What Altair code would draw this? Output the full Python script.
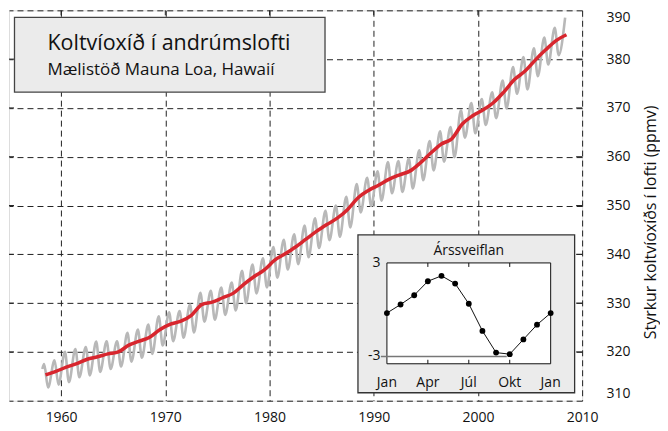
import altair as alt
import pandas as pd

FONT = "Open Sans"

# ---- data ----
trend_years = list(range(1958, 2009))
trend_ppm = [315.3, 316.0, 316.9, 317.6, 318.5, 319.0, 319.6, 320.0, 321.4, 322.2,
             323.0, 324.6, 325.7, 326.3, 327.5, 329.7, 330.2, 331.1, 332.0, 333.8,
             335.4, 336.8, 338.8, 340.1, 341.5, 343.1, 344.7, 346.1, 347.4, 349.2,
             351.6, 353.1, 354.2, 355.4, 356.3, 357.1, 358.8, 360.8, 362.6, 363.7,
             366.7, 368.4, 369.6, 371.1, 373.3, 375.8, 377.5, 379.8, 381.9, 383.8, 385.0]

# monthly record: seasonal maxima (May) and minima (Sep/Oct)
peak_years = list(range(1958, 2009))
peak_ppm = [317.5, 318.3, 320.0, 320.6, 321.0, 322.1, 322.2, 322.2, 323.9, 324.6,
            325.6, 327.3, 328.1, 328.4, 329.7, 332.1, 332.5, 333.2, 334.2, 336.6,
            337.9, 339.2, 341.5, 343.0, 344.1, 345.9, 347.4, 348.9, 350.0, 351.8,
            354.4, 355.7, 357.0, 358.9, 359.1, 359.6, 361.3, 363.2, 365.2, 366.1,
            369.5, 371.0, 371.8, 373.2, 375.6, 378.4, 380.4, 382.2, 384.4, 386.4, 388.5]
trough_years = list(range(1958, 2008))
trough_ppm = [312.7, 313.3, 313.8, 314.8, 315.2, 315.9, 316.5, 317.0, 318.0, 318.8,
              319.6, 321.3, 322.2, 322.9, 324.0, 326.2, 326.6, 327.6, 328.5, 330.0,
              332.0, 333.2, 335.2, 336.9, 338.0, 339.4, 341.3, 342.9, 343.6, 345.5,
              348.6, 349.9, 351.0, 352.5, 352.8, 353.5, 355.2, 357.2, 359.0, 359.9,
              363.9, 364.8, 366.5, 367.9, 369.9, 372.9, 373.8, 376.5, 378.9, 380.8]
first_month = (1958.2, 316.5)

# seasonal cycle (inset)
cycle_month = list(range(13))
cycle_ppm = [-0.2, 0.35, 0.95, 1.85, 2.2, 1.7, 0.4, -1.35, -2.75, -2.85, -1.9, -0.95, -0.2]
cycle_labels = ["Jan", "Apr", "Júl", "Okt", "Jan"]
cycle_label_pos = [0, 3, 6, 9, 12]

x_ticks = [1960, 1970, 1980, 1990, 2000, 2010]
y_ticks = [310, 320, 330, 340, 350, 360, 370, 380, 390]
inner_x_ticks = [1960, 1970, 1980, 1990, 2000]
inner_y_ticks = [320, 330, 340, 350, 360, 370, 380]

title_text = "Koltvíoxíð í andrúmslofti"
subtitle_text = "Mælistöð Mauna Loa, Hawaií"
y_title = "Styrkur koltvíoxíðs í lofti (ppmv)"
inset_title = "Árssveiflan"

# ---- tables ----
rows = [{"t": first_month[0], "v": first_month[1]}]
for i, yr in enumerate(peak_years):
    rows.append({"t": yr + 0.37, "v": peak_ppm[i]})
    if i < len(trough_years):
        rows.append({"t": trough_years[i] + 0.75, "v": trough_ppm[i]})
gray_df = pd.DataFrame(rows)
trend_df = pd.DataFrame({"t": [y + 0.5 for y in trend_years], "v": trend_ppm})
cycle_df = pd.DataFrame({"m": cycle_month, "v": cycle_ppm})
mlab_df = pd.DataFrame({"m": cycle_label_pos, "lab": cycle_labels})

W, H = 574, 391
xs = alt.Scale(domain=[1955, 2010], nice=False, zero=False)
ys = alt.Scale(domain=[310, 390], nice=False, zero=False)

gray = alt.Chart(gray_df).mark_line(color="#b8b8b8", strokeWidth=2.6, interpolate="monotone").encode(
    x=alt.X("t:Q", scale=xs, title=None,
            axis=alt.Axis(values=x_ticks, format="d", grid=True, gridDash=[6, 4], gridColor="#222",
                          gridWidth=1, ticks=False, tickSize=0, domain=False, labelFontSize=14,
                          labelPadding=10, labelColor="#111", labelFont=FONT, labelFlush=False)),
    y=alt.Y("v:Q", scale=ys,
            axis=alt.Axis(orient="right", values=y_ticks, grid=True, gridDash=[6, 4], gridColor="#222",
                          gridWidth=1, ticks=False, tickSize=0, domain=False, labelFontSize=14,
                          labelPadding=24, labelColor="#111", labelFont=FONT,
                          labelFlush=True, labelFlushOffset=0,
                          title=y_title, titleFont=FONT, titleFontSize=16, titleFontWeight="normal",
                          titleColor="#111", titleAngle=270, titleX=68, titleY=212,
                          titleAlign="center", titleBaseline="middle")),
)
red = alt.Chart(trend_df).mark_line(color="#d8262e", strokeWidth=3.5, interpolate="monotone").encode(
    x=alt.X("t:Q", scale=xs, axis=None), y=alt.Y("v:Q", scale=ys, axis=None))

one = pd.DataFrame({"a": [0]})
title_box = alt.Chart(one).mark_rect(fill="#ebebeb", stroke="#444", strokeWidth=1.3).encode(
    x=alt.value(5.5), x2=alt.value(316.5), y=alt.value(7), y2=alt.value(82))
title_t = alt.Chart(pd.DataFrame({"s": [title_text]})).mark_text(
    font=FONT, fontSize=21.5, align="left", baseline="alphabetic", color="#111").encode(
    text="s:N", x=alt.value(38.5), y=alt.value(40))
sub_t = alt.Chart(pd.DataFrame({"s": [subtitle_text]})).mark_text(
    font=FONT, fontSize=17, align="left", baseline="alphabetic", color="#111").encode(
    text="s:N", x=alt.value(38.5), y=alt.value(65))

# inward ticks
top_ticks = alt.Chart(pd.DataFrame({"t": inner_x_ticks})).mark_rule(color="#222", strokeWidth=1).encode(
    x=alt.X("t:Q", scale=xs, axis=None), y=alt.value(0), y2=alt.value(5))
left_ticks = alt.Chart(pd.DataFrame({"v": inner_y_ticks})).mark_rule(color="#222", strokeWidth=1).encode(
    y=alt.Y("v:Q", scale=ys, axis=None), x=alt.value(0), x2=alt.value(5))
right_ticks = alt.Chart(pd.DataFrame({"v": inner_y_ticks})).mark_rule(color="#222", strokeWidth=1).encode(
    y=alt.Y("v:Q", scale=ys, axis=None), x=alt.value(W - 6), x2=alt.value(W))

# inset
ms = alt.Scale(domain=[0, 12], range=[378.5, 542.5], nice=False, zero=False)
vs = alt.Scale(domain=[-3, 3], range=[346.7, 253.5], nice=False, zero=False)
inset_box = alt.Chart(one).mark_rect(fill="#ebebeb", stroke="#333", strokeWidth=1.3).encode(
    x=alt.value(349.5), x2=alt.value(566.5), y=alt.value(225), y2=alt.value(383))
inner_box = alt.Chart(one).mark_rect(fill="white", stroke="#111", strokeWidth=1).encode(
    x=alt.value(378.5), x2=alt.value(542.5), y=alt.value(253), y2=alt.value(354))
inset_rule = alt.Chart(pd.DataFrame({"v": [-3]})).mark_rule(color="#777", strokeWidth=1.5).encode(
    y=alt.Y("v:Q", scale=vs, axis=None), x=alt.value(372.5), x2=alt.value(498.5))
inset_tt = alt.Chart(pd.DataFrame({"m": [3, 6, 9]})).mark_rule(color="#111", strokeWidth=1).encode(
    x=alt.X("m:Q", scale=ms, axis=None), y=alt.value(253), y2=alt.value(257))
inset_tb = alt.Chart(pd.DataFrame({"m": [3, 6, 9]})).mark_rule(color="#111", strokeWidth=1).encode(
    x=alt.X("m:Q", scale=ms, axis=None), y=alt.value(350), y2=alt.value(354))
inset_line = alt.Chart(cycle_df).mark_line(color="#111", strokeWidth=1).encode(
    x=alt.X("m:Q", scale=ms, axis=None), y=alt.Y("v:Q", scale=vs, axis=None))
inset_pts = alt.Chart(cycle_df).mark_circle(color="#000", size=34, opacity=1).encode(
    x=alt.X("m:Q", scale=ms, axis=None), y=alt.Y("v:Q", scale=vs, axis=None))
inset_mlab = alt.Chart(mlab_df).mark_text(font=FONT, fontSize=14, baseline="middle", color="#111").encode(
    x=alt.X("m:Q", scale=ms, axis=None), y=alt.value(373), text="lab:N")
inset_vlab = alt.Chart(pd.DataFrame({"v": [3, -3], "lab": ["3", "-3"]})).mark_text(
    font=FONT, fontSize=14, baseline="middle", align="right", color="#111").encode(
    y=alt.Y("v:Q", scale=vs, axis=None), x=alt.value(372), text="lab:N")
inset_title_t = alt.Chart(pd.DataFrame({"s": [inset_title]})).mark_text(
    font=FONT, fontSize=14, baseline="middle", color="#111").encode(
    text="s:N", x=alt.value(460.5), y=alt.value(241))

chart = alt.layer(
    gray, red, title_box, title_t, sub_t, top_ticks, left_ticks, right_ticks,
    inset_box, inner_box, inset_rule, inset_tt, inset_tb, inset_line, inset_pts,
    inset_mlab, inset_vlab, inset_title_t,
).resolve_scale(x="independent", y="independent").properties(
    width=W, height=H, padding={"left": 0, "top": 1, "right": 2, "bottom": 0}
).configure_view(stroke="#111", strokeWidth=1.2).configure(font=FONT)

chart.save("out.html", embed_options={"renderer": "svg", "actions": False})
